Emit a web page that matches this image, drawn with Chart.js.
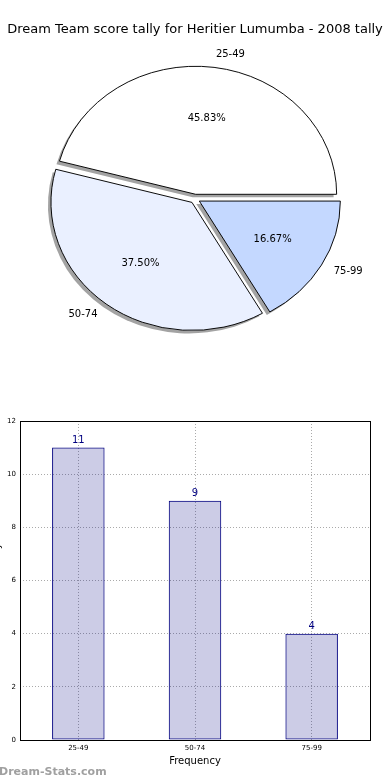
<!DOCTYPE html>
<html>
<head>
<meta charset="utf-8">
<script src="https://cdn.jsdelivr.net/npm/chart.js@4.4.0/dist/chart.umd.min.js"></script>
<style>
    html, body { margin: 0; padding: 0; background: #fff; }
    #wrap { position: relative; width: 390px; height: 780px; overflow: hidden; }
    #pie { position: absolute; left: 0; top: 0; }
    #bar { position: absolute; left: 0; top: 400px; }
</style>
</head>
<body>
<div id="wrap">
    <canvas id="pie" width="390" height="400"></canvas>
    <canvas id="bar" width="390" height="380"></canvas>
</div>
<script>
    var categories = ["25-49", "50-74", "75-99"];
    var tallies = [11, 9, 4];
    var pieColours = ["#ffffff", "#eaf0ff", "#c4d8ff"];
    var yTicks = [0, 2, 4, 6, 8, 10, 12];

    var FONT = "'DejaVu Sans', sans-serif";
    var ELLIPSE = 0.908;  // the pie is squashed vertically, like the original
    var EXPLODE = 5;      // px each slice is pulled out

    (function () {
        "use strict";

        var total = tallies.reduce(function (a, b) { return a + b; }, 0);

        // pie goes clockwise from 3 o'clock, so feed it in reverse order
        var pieLabels = categories.slice().reverse();
        var pieData = tallies.slice().reverse();
        var pieFill = pieColours.slice().reverse();
        var pieCentre = { x: 0, y: 0 };

        function squash(ctx) {
            ctx.translate(pieCentre.x, pieCentre.y);
            ctx.scale(1, ELLIPSE);
            ctx.translate(-pieCentre.x, -pieCentre.y);
        }

        var piePlugin = {
            id: "pieDecor",
            // pull every slice out along its bisector
            afterDatasetUpdate: function (chart) {
                var meta = chart.getDatasetMeta(0);
                if (!meta.data.length) return;
                pieCentre.x = meta.data[0].x;
                pieCentre.y = meta.data[0].y;
                meta.data.forEach(function (el) {
                    var mid = (el.startAngle + el.endAngle) / 2;
                    el.x = pieCentre.x + Math.cos(mid) * EXPLODE;
                    el.y = pieCentre.y + Math.sin(mid) * EXPLODE;
                });
            },
            beforeDatasetsDraw: function (chart) {
                var ctx = chart.ctx;
                var meta = chart.getDatasetMeta(0);
                // shadows first, below all slices
                ctx.save();
                ctx.translate(-3, 3);
                squash(ctx);
                ctx.fillStyle = "#a3a3a3";
                meta.data.forEach(function (el) {
                    var p = el.getProps(["x", "y", "startAngle", "endAngle", "outerRadius"], true);
                    ctx.beginPath();
                    ctx.moveTo(p.x, p.y);
                    ctx.arc(p.x, p.y, p.outerRadius, p.startAngle, p.endAngle);
                    ctx.closePath();
                    ctx.fill();
                });
                ctx.restore();
                ctx.save();
                squash(ctx);
            },
            afterDatasetsDraw: function (chart) {
                var ctx = chart.ctx;
                ctx.restore();
                var meta = chart.getDatasetMeta(0);
                ctx.save();
                ctx.fillStyle = "#000";
                ctx.font = "10px " + FONT;
                ctx.textBaseline = "middle";
                meta.data.forEach(function (el, i) {
                    var p = el.getProps(["x", "y", "startAngle", "endAngle", "outerRadius"], true);
                    var mid = (p.startAngle + p.endAngle) / 2;
                    var c = Math.cos(mid), s = Math.sin(mid);
                    var yOf = function (k) { return pieCentre.y + (p.y - pieCentre.y + s * k * p.outerRadius) * ELLIPSE; };
                    ctx.textAlign = c > 0 ? "left" : "right";
                    ctx.fillText(pieLabels[i], p.x + c * 1.1 * p.outerRadius, yOf(1.1));
                    ctx.textAlign = "center";
                    ctx.fillText((pieData[i] / total * 100).toFixed(2) + "%", p.x + c * 0.6 * p.outerRadius, yOf(0.6));
                });
                ctx.restore();
            }
        };

        new Chart(document.getElementById("pie"), {
            type: "pie",
            data: {
                labels: pieLabels,
                datasets: [{
                    data: pieData,
                    backgroundColor: pieFill,
                    borderColor: "#000",
                    borderWidth: 1,
                    hoverOffset: 0,
                    radius: 141,
                    rotation: 90
                }]
            },
            options: {
                responsive: false,
                animation: false,
                rotation: 90,
                radius: 141,
                layout: { padding: { top: 0, bottom: 40, left: 0, right: 0 } },
                plugins: {
                    legend: { display: false },
                    tooltip: { enabled: false },
                    title: {
                        display: true,
                        text: "Dream Team score tally for Heritier Lumumba - 2008 tally",
                        color: "#000",
                        font: { family: FONT, size: 13, weight: "normal" },
                        padding: { top: 22, bottom: 0 }
                    }
                }
            },
            plugins: [piePlugin]
        });

        var barDecor = {
            id: "barDecor",
            afterDraw: function (chart) {
                var ctx = chart.ctx;
                var a = chart.chartArea;
                ctx.save();
                // frame
                ctx.strokeStyle = "#000";
                ctx.lineWidth = 1;
                ctx.strokeRect(Math.round(a.left) + 0.5, Math.round(a.top) + 0.5,
                    Math.round(a.right - a.left), Math.round(a.bottom - a.top));
                // value labels
                ctx.fillStyle = "#000080";
                ctx.font = "10px " + FONT;
                ctx.textAlign = "center";
                ctx.textBaseline = "bottom";
                chart.getDatasetMeta(0).data.forEach(function (bar, i) {
                    ctx.fillText(String(tallies[i]), bar.x, bar.y - 2);
                });
                // axis titles
                ctx.fillStyle = "#000";
                ctx.textBaseline = "middle";
                ctx.fillText("Frequency", (a.left + a.right) / 2, 361);
                ctx.save();
                ctx.translate(-2.5, (a.top + a.bottom) / 2);
                ctx.rotate(-Math.PI / 2);
                ctx.fillText("Scorecard tally", 0, 0);
                ctx.restore();
                // watermark
                ctx.fillStyle = "#a0a0a0";
                ctx.font = "bold 11px " + FONT;
                ctx.textAlign = "left";
                ctx.textBaseline = "alphabetic";
                ctx.fillText("Dream-Stats.com", -1, 375);
                ctx.restore();
            }
        };

        new Chart(document.getElementById("bar"), {
            type: "bar",
            data: {
                labels: categories,
                datasets: [{
                    data: tallies,
                    backgroundColor: "rgba(0,0,128,0.2)",
                    borderColor: "#000080",
                    borderWidth: 1,
                    borderSkipped: false,
                    barPercentage: 0.45,
                    categoryPercentage: 1
                }]
            },
            options: {
                responsive: false,
                animation: false,
                layout: { padding: { top: 21, right: 20, left: 0, bottom: 0 } },
                plugins: { legend: { display: false }, tooltip: { enabled: false } },
                scales: {
                    x: {
                        grid: { offset: false, color: "#aaaaaa", drawTicks: false, lineWidth: 1 },
                        border: { display: false, dash: [1, 2] },
                        ticks: { color: "#000", font: { family: FONT, size: 7 }, padding: 4 },
                        afterFit: function (s) { s.height = 40; }
                    },
                    y: {
                        min: 0,
                        max: 12,
                        afterBuildTicks: function (s) { s.ticks = yTicks.map(function (v) { return { value: v }; }); },
                        grid: { color: "#aaaaaa", drawTicks: false, lineWidth: 1 },
                        border: { display: false, dash: [1, 2] },
                        ticks: { color: "#000", font: { family: FONT, size: 7 }, padding: 4 },
                        afterFit: function (s) { s.width = 20; }
                    }
                }
            },
            plugins: [barDecor]
        });
    })();
</script>
</body>
</html>
